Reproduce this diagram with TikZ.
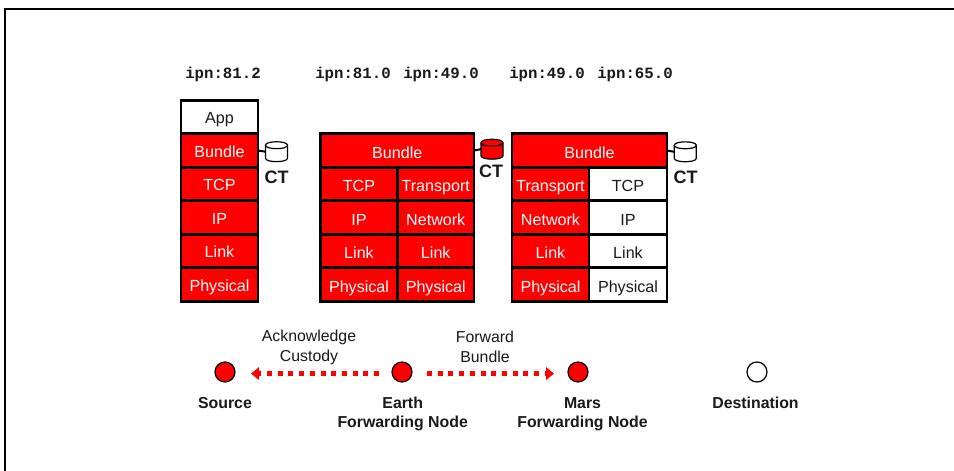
\documentclass[tikz,border=0pt]{standalone}
\usepackage{fontspec}
\setmainfont{Liberation Sans}
\newfontfamily\ipnfont{Liberation Mono}[BoldFont={Liberation Mono Bold}]
\usetikzlibrary{arrows.meta,calc}
\definecolor{cellred}{RGB}{255,0,0}
\newcommand{\storebody}[2]{%
  \draw[line width=1.2pt,fill=#2]
    ($(#1.center)+(-11,-6.5)$) .. controls +(0,-4.6) and +(0,-4.6) .. ++(22,0)
    -- ++(0,13) .. controls +(0,4.6) and +(0,4.6) .. ++(-22,0) -- cycle;
  \draw[line width=1.2pt]
    ($(#1.center)+(-11,-6.5)$) .. controls +(0,4.6) and +(0,4.6) .. ++(22,0);
}
\tikzset{
  x=1pt,y=-1pt,
  cell/.style={draw=black,line width=2.6pt,outer sep=0pt,inner sep=0pt,align=center,
    font=\fontsize{16.1}{16}\selectfont,text height=16.6pt,text depth=1.4pt},
  firstcol/.style={text height=15.8pt,text depth=2.2pt},
  redcell/.style={cell,fill=cellred,text=white},
  whitecell/.style={cell,fill=white,text=black!90},
  wfull/.style={minimum width=#1 pt},
  hrow/.style={minimum height=33.5pt},
  ipn/.style={font=\ipnfont\bfseries\fontsize{15.7}{16}\selectfont,inner sep=0pt,text=black!90},
  ctlabel/.style={font=\bfseries\fontsize{18}{18}\selectfont,inner sep=0pt,text=black!90},
  store/.style={minimum width=22pt,minimum height=20pt,inner sep=0pt,outer sep=0pt},
  link/.style={draw=black,line width=2pt},
  station/.style={circle,draw=black,line width=1.2pt,minimum size=20pt,inner sep=0pt,outer sep=0pt},
  caption/.style={font=\fontsize{15.85}{20}\selectfont,align=center,inner sep=0pt,text=black!90},
  bcaption/.style={font=\bfseries\fontsize{15.85}{19}\selectfont,align=center,inner sep=0pt,text=black!90},
  flow/.style={draw=cellred,line width=4.8pt,dash pattern=on 5pt off 5.7pt,
    -{Triangle[length=8pt,width=12.5pt,fill=cellred]}}
}
\begin{document}
\begin{tikzpicture}
\useasboundingbox (0,0) rectangle (954,471);
\fill[white] (0,0) rectangle (954,471);
\draw[black,line width=2pt] (5,471) -- (5,9) -- (954,9);

% addresses
\node[ipn] (a1) at (223,74) {ipn:81.2};
\node[ipn] (a2) at (353,74) {ipn:81.0};
\node[ipn] (a3) at (441,74) {ipn:49.0};
\node[ipn] (a4) at (547,74) {ipn:49.0};
\node[ipn] (a5) at (635,74) {ipn:65.0};

% stack 1
\node[whitecell,firstcol,wfull=77,hrow] (s1app) at (219.5,117) {App};
\node[redcell,firstcol,wfull=77,hrow] (s1bun) at (219.5,150.5) {Bundle};
\node[redcell,firstcol,wfull=77,hrow] (s1tcp) at (219.5,184) {TCP};
\node[redcell,firstcol,wfull=77,hrow] (s1ip) at (219.5,217.5) {IP};
\node[redcell,firstcol,wfull=77,hrow] (s1lnk) at (219.5,251) {Link};
\node[redcell,firstcol,wfull=77,hrow] (s1phy) at (219.5,284.5) {Physical};

% stack 2
\node[redcell,wfull=153.5,hrow] (s2bun) at (397.25,150.5) {Bundle};
\node[redcell,wfull=77,hrow] (s2tcp) at (359,184) {TCP};
\node[redcell,wfull=77,hrow] (s2ip) at (359,217.5) {IP};
\node[redcell,wfull=77,hrow] (s2lnk) at (359,251) {Link};
\node[redcell,wfull=77,hrow] (s2phy) at (359,284.5) {Physical};
\node[redcell,wfull=76.5,hrow] (s2tra) at (435.75,184) {Transport};
\node[redcell,wfull=76.5,hrow] (s2net) at (435.75,217.5) {Network};
\node[redcell,wfull=76.5,hrow] (s2ln2) at (435.75,251) {Link};
\node[redcell,wfull=76.5,hrow] (s2ph2) at (435.75,284.5) {Physical};

% stack 3
\node[redcell,wfull=155,hrow] (s3bun) at (589.5,150.5) {Bundle};
\node[redcell,wfull=77,hrow] (s3tra) at (550.5,184) {Transport};
\node[redcell,wfull=77,hrow] (s3net) at (550.5,217.5) {Network};
\node[redcell,wfull=77,hrow] (s3lnk) at (550.5,251) {Link};
\node[redcell,wfull=77,hrow] (s3phy) at (550.5,284.5) {Physical};
\node[whitecell,wfull=78,hrow] (s3tcp) at (628,184) {TCP};
\node[whitecell,wfull=78,hrow] (s3ip) at (628,217.5) {IP};
\node[whitecell,wfull=78,hrow] (s3ln2) at (628,251) {Link};
\node[whitecell,wfull=78,hrow] (s3ph2) at (628,284.5) {Physical};

% custody stores
\node[store] (c1) at (276.5,151.7) {};
\node[store] (c2) at (492,149.2) {};
\node[store] (c3) at (685.3,151.8) {};
\draw[link] (s1bun.east) -- (c1.west);
\draw[link] (s2bun.east) -- (c2.west);
\draw[link] (s3bun.east) -- (c3.west);
\storebody{c1}{white}
\storebody{c2}{cellred}
\storebody{c3}{white}
\node[ctlabel] (t1) at (276.5,177) {CT};
\node[ctlabel] (t2) at (491,171) {CT};
\node[ctlabel] (t3) at (685.5,177) {CT};

% path
\node[station,fill=cellred] (src) at (225,372) {};
\node[station,fill=cellred] (earth) at (402,372) {};
\node[station,fill=cellred] (mars) at (578,372) {};
\node[station,fill=white] (dst) at (757,372) {};
\draw[flow,shorten <=23pt,shorten >=26pt] ([yshift=-1.6pt]earth.center) -- ([yshift=-1.6pt]src.center);
\draw[flow,shorten <=25pt,shorten >=24pt] ([yshift=-1.6pt]earth.center) -- ([yshift=-1.6pt]mars.center);

\node[caption] (ack) at (309,347) {Acknowledge\\Custody};
\node[caption] (fwd) at (485,347) {Forward\\Bundle};
\node[bcaption] (ls) at (225,403) {Source};
\node[bcaption] (le) at (402.7,414) {Earth\\Forwarding Node};
\node[bcaption] (lm) at (582.5,414) {Mars\\Forwarding Node};
\node[bcaption] (ld) at (755.5,403) {Destination};
\end{tikzpicture}
\end{document}
